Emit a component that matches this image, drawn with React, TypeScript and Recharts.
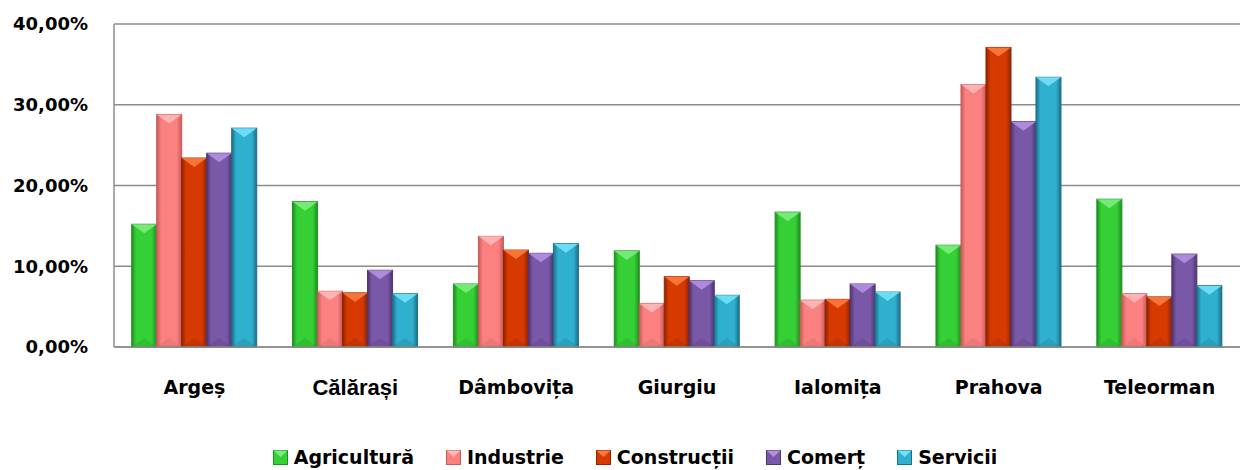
import { BarChart, Bar, XAxis, YAxis, CartesianGrid, Legend } from "recharts";

const categories = ["Argeș", "Călărași", "Dâmbovița", "Giurgiu", "Ialomița", "Prahova", "Teleorman"];
const agricultura = [15.2, 18.0, 7.8, 11.9, 16.7, 12.6, 18.3];
const industrie = [28.8, 6.9, 13.7, 5.4, 5.8, 32.5, 6.6];
const constructii = [23.4, 6.7, 12.0, 8.7, 5.9, 37.1, 6.2];
const comert = [24.0, 9.5, 11.6, 8.2, 7.8, 27.9, 11.5];
const servicii = [27.1, 6.6, 12.8, 6.4, 6.8, 33.4, 7.6];
const yTicks = [0, 10, 20, 30, 40];

const series = [
	{ key: "agricultura", name: "Agricultură", color: "#35d035", light: "#7dec7d", dark: "#1f8f1f" },
	{ key: "industrie", name: "Industrie", color: "#fb8080", light: "#ffb8b8", dark: "#c85a5a" },
	{ key: "constructii", name: "Construcții", color: "#d63a00", light: "#ff7a3c", dark: "#8f2400" },
	{ key: "comert", name: "Comerț", color: "#7a58a8", light: "#b290e0", dark: "#4e3470" },
	{ key: "servicii", name: "Servicii", color: "#2fb0cf", light: "#72e2fa", dark: "#1d6f86" },
];

const data = categories.map((c, i) => ({
	name: c,
	agricultura: agricultura[i],
	industrie: industrie[i],
	constructii: constructii[i],
	comert: comert[i],
	servicii: servicii[i],
}));

const FONT = "'DejaVu Sans', sans-serif";

const makeShape = (s: any) => (props: any) => {
	const { x, y, width, height } = props;
	if (!height || height <= 0) return null;
	const tri = Math.min(9, height / 2);
	return (
		<g>
			<rect x={x} y={y} width={width} height={height} fill={`url(#grad-${s.key})`} stroke={s.dark} strokeWidth={1} />
			<polygon
				points={`${x},${y} ${x + width},${y} ${x + width / 2},${y + tri}`}
				fill={s.light}
				opacity={0.9}
			/>
			<polygon
				points={`${x},${y + height} ${x + width},${y + height} ${x + width / 2},${y + height - tri}`}
				fill={s.dark}
				opacity={0.25}
			/>
		</g>
	);
};

const CategoryTick = (props: any) => {
	const { x, y, payload } = props;
	const special = payload.value === "Călărași";
	return (
		<text
			x={x}
			y={y}
			dy={special ? 40 : 39}
			textAnchor="middle"
			fill="#000"
			fontFamily={special ? "'Liberation Sans', sans-serif" : FONT}
			fontWeight="bold"
			fontSize={special ? 22 : 19}
		>
			{payload.value}
		</text>
	);
};

const renderLegend = () => (
	<div
		style={{
			display: "flex",
			justifyContent: "center",
			gap: 32,
			paddingTop: 6,
			paddingLeft: 30,
			fontFamily: FONT,
			fontWeight: "bold",
			fontSize: 19,
		}}
	>
		{series.map((s) => (
			<div key={s.key} style={{ display: "flex", alignItems: "center" }}>
				<svg width={15} height={15} style={{ marginRight: 6 }}>
					<rect x={0.5} y={0.5} width={14} height={14} fill={s.color} stroke={s.dark} />
					<polygon points="0.5,0.5 14.5,0.5 7.5,7" fill={s.light} />
				</svg>
				<span>{s.name}</span>
			</div>
		))}
	</div>
);

const App = () => {
	return (
		<div style={{ position: "absolute", left: 0, top: 0, width: 1243, height: 470, background: "#fff" }}>
			<BarChart
				width={1243}
				height={470}
				data={data}
				margin={{ top: 24, right: 3, left: 0, bottom: 0 }}
				barGap={0}
				barCategoryGap="11%"
			>
				<defs>
					{series.map((s) => (
						<linearGradient key={s.key} id={`grad-${s.key}`} x1="0" y1="0" x2="1" y2="0">
							<stop offset="0%" stopColor={s.dark} />
							<stop offset="18%" stopColor={s.color} />
							<stop offset="80%" stopColor={s.color} />
							<stop offset="100%" stopColor={s.dark} />
						</linearGradient>
					))}
				</defs>
				<CartesianGrid vertical={false} stroke="#8c8c8c" strokeWidth={1.5} />
				<XAxis
					dataKey="name"
					height={93}
					tickLine={false}
					axisLine={{ stroke: "#8c8c8c", strokeWidth: 1.5 }}
					tick={<CategoryTick />}
					interval={0}
				/>
				<YAxis
					width={114}
					domain={[0, 40]}
					ticks={yTicks}
					tickLine={false}
					tickSize={0}
					tickMargin={26}
					axisLine={{ stroke: "#8c8c8c", strokeWidth: 1.5 }}
					tick={{ fill: "#000", fontFamily: FONT, fontWeight: "bold", fontSize: 18 }}
					tickFormatter={(v: number) => v.toFixed(2).replace(".", ",") + "%"}
				/>
				<Legend verticalAlign="bottom" height={30} content={renderLegend} />
				{series.map((s) => (
					<Bar
						key={s.key}
						dataKey={s.key}
						name={s.name}
						fill={s.color}
						shape={makeShape(s)}
						isAnimationActive={false}
					/>
				))}
			</BarChart>
		</div>
	);
};

export default App;
